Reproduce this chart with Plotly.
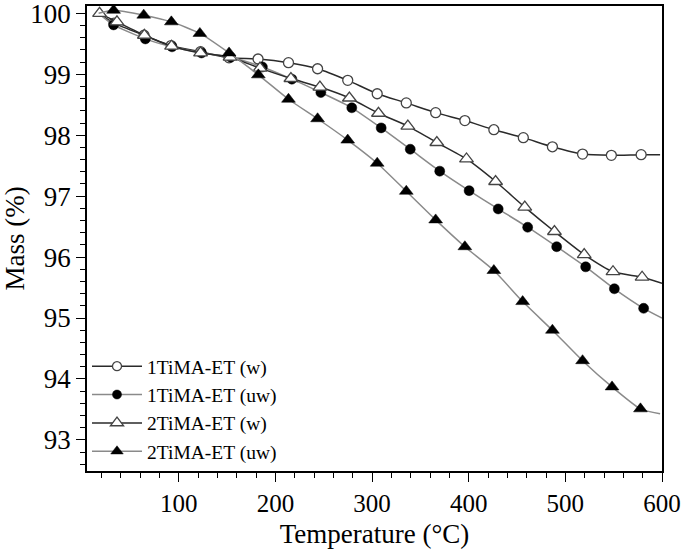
import plotly.graph_objects as go

# Temperature (°C) and mass (%)
temp_1w = [17, 33, 64, 92, 122.5, 152, 182, 213.5, 243.6, 274.8, 305.3, 335.4, 365.8, 396, 426, 456.5, 486.6, 517.8, 547.6, 578.4, 598]
mass_1w = [100.0, 99.84, 99.64, 99.47, 99.37, 99.27, 99.25, 99.19, 99.09, 98.90, 98.68, 98.53, 98.37, 98.24, 98.09, 97.96, 97.81, 97.69, 97.67, 97.68, 97.68]
show_1w = [0, 1, 1, 1, 1, 1, 1, 1, 1, 1, 1, 1, 1, 1, 1, 1, 1, 1, 1, 1, 0]

temp_1uw = [17, 32.5, 65.4, 93, 123.5, 153.7, 186.5, 217, 247, 279, 309.4, 339.5, 370, 400.4, 430.5, 461, 491, 521, 550.7, 581, 600]
mass_1uw = [100.0, 99.81, 99.58, 99.45, 99.35, 99.28, 99.12, 98.92, 98.70, 98.45, 98.12, 97.77, 97.41, 97.09, 96.79, 96.49, 96.17, 95.84, 95.48, 95.16, 95.00]
show_1uw = [0, 1, 1, 1, 1, 1, 1, 1, 1, 1, 1, 1, 1, 1, 1, 1, 1, 1, 1, 1, 0]

temp_2w = [18, 36, 64.4, 92.5, 122.5, 153, 184, 216, 246, 276.5, 306.6, 337, 367, 397.7, 427.8, 458, 488.7, 519.5, 549.3, 579.4, 600]
mass_2w = [100.0, 99.86, 99.64, 99.46, 99.35, 99.28, 99.10, 98.93, 98.79, 98.61, 98.36, 98.15, 97.88, 97.61, 97.24, 96.82, 96.42, 96.04, 95.76, 95.67, 95.57]
show_2w = [1, 1, 1, 1, 1, 1, 1, 1, 1, 1, 1, 1, 1, 1, 1, 1, 1, 1, 1, 1, 0]

temp_2uw = [17, 32.5, 63.7, 92.3, 121.8, 152, 182.3, 213.5, 243.6, 274.8, 305.3, 335.4, 365.8, 396, 426, 455.8, 486.6, 517.8, 548.3, 577.7, 598]
mass_2uw = [100.0, 100.05, 99.97, 99.86, 99.67, 99.35, 98.99, 98.59, 98.27, 97.92, 97.54, 97.08, 96.61, 96.17, 95.78, 95.27, 94.80, 94.30, 93.87, 93.51, 93.43]
show_2uw = [0, 1, 1, 1, 1, 1, 1, 1, 1, 1, 1, 1, 1, 1, 1, 1, 1, 1, 1, 1, 0]

x_ticks = [100, 200, 300, 400, 500, 600]
y_ticks = [93, 94, 95, 96, 97, 98, 99, 100]

FONT = "Liberation Serif"

series = [
    ("1TiMA-ET (w)", temp_1w, mass_1w, show_1w, "open-circle", "#2a2a2a", 10),
    ("1TiMA-ET (uw)", temp_1uw, mass_1uw, show_1uw, "filled-circle", "#8a8a8a", 10),
    ("2TiMA-ET (w)", temp_2w, mass_2w, show_2w, "open-triangle", "#2a2a2a", 12),
    ("2TiMA-ET (uw)", temp_2uw, mass_2uw, show_2uw, "filled-triangle", "#8a8a8a", 12),
]

fig = go.Figure()
for name, xs, ys, show, style, lcol, size in series:
    sizes = [size if s else 0 for s in show]
    sym = "circle" if "circle" in style else "triangle-up"
    if style.startswith("open"):
        marker = dict(symbol=sym, color="#ffffff", size=sizes, opacity=1,
                      line=dict(color="#444444", width=1.3))
    else:
        marker = dict(symbol=sym, color="#000000", size=sizes, opacity=1,
                      line=dict(color="#000000", width=0.5))
    fig.add_trace(go.Scatter(
        x=xs, y=ys, name=name, mode="lines+markers",
        line=dict(color=lcol, width=1.5, shape="spline", smoothing=0.6),
        marker=marker,
    ))

fig.update_layout(
    width=685, height=550,
    margin=dict(l=87, r=23, t=6, b=79, autoexpand=False),
    paper_bgcolor="white", plot_bgcolor="white",
    font=dict(family=FONT, color="black"),
    showlegend=True,
    legend=dict(
        x=0.0, y=0.0, xanchor="left", yanchor="bottom",
        bgcolor="rgba(0,0,0,0)", font=dict(size=19.5, family=FONT),
        itemwidth=50, tracegroupgap=0,
    ),
    xaxis=dict(
        range=[5, 600], tickvals=x_ticks, ticktext=[str(v) for v in x_ticks],
        automargin=False, ticklabeloverflow="allow",
        showgrid=False, zeroline=False, showline=True, linecolor="black", linewidth=1.5,
        mirror=True, ticks="outside", ticklen=9, tickwidth=1.3, tickcolor="black",
        minor=dict(ticks="outside", ticklen=5, dtick=20, tick0=0, tickcolor="black", tickwidth=1),
        tickfont=dict(size=25, family=FONT),
        title=dict(text="Temperature (°C)", font=dict(size=27, family=FONT), standoff=8),
    ),
    yaxis=dict(
        range=[92.49, 100.12], tickvals=y_ticks, ticktext=[str(v) for v in y_ticks],
        automargin=False, ticklabeloverflow="allow",
        showgrid=False, zeroline=False, showline=True, linecolor="black", linewidth=1.5,
        mirror=True, ticks="outside", ticklen=9, tickwidth=1.3, tickcolor="black",
        minor=dict(ticks="outside", ticklen=5, dtick=0.2, tick0=93, tickcolor="black", tickwidth=1),
        tickfont=dict(size=27, family=FONT),
        title=dict(text="Mass (%)", font=dict(size=27, family=FONT), standoff=16),
    ),
)

fig.write_html("out.html", config={"displayModeBar": False},
               post_script="document.body.style.margin='0px';")
